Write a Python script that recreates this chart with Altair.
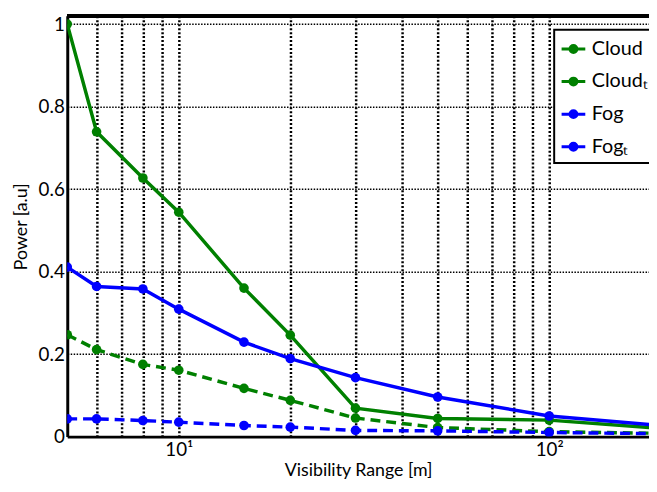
import altair as alt
import pandas as pd

# ---- data ----
x_vals = [5, 6, 8, 10, 15, 20, 30, 50, 100, 200]
cloud = [1.0, 0.739, 0.627, 0.544, 0.360, 0.246, 0.069, 0.044, 0.040, 0.020]
cloud_t = [0.247, 0.211, 0.175, 0.161, 0.117, 0.088, 0.045, 0.022, 0.012, 0.008]
fog = [0.411, 0.364, 0.358, 0.309, 0.229, 0.189, 0.143, 0.096, 0.050, 0.027]
fog_t = [0.043, 0.043, 0.039, 0.035, 0.027, 0.023, 0.015, 0.014, 0.010, 0.007]

series_names = ["Cloud", "Cloudₜ", "Fog", "Fogₜ"]
series_colors = ["#008000", "#008000", "#0000ff", "#0000ff"]
solid_series = ["Cloud", "Fog"]
dashed_series = ["Cloudₜ", "Fogₜ"]

x_grid_values = [6, 7, 8, 9, 10, 20, 30, 40, 50, 60, 70, 80, 90, 100]
y_tick_values = [0, 0.2, 0.4, 0.6, 0.8, 1.0]

rows = []
for name, vals in zip(series_names, [cloud, cloud_t, fog, fog_t]):
    for xv, yv in zip(x_vals, vals):
        rows.append({"x": xv, "value": yv, "series": name})
df = pd.DataFrame(rows)

FONT = "Lato"
W, H = 589, 426

x_scale = alt.Scale(type="log", domain=[5, 186])
y_scale = alt.Scale(domain=[0, 1.02], nice=False, zero=False)

legend_path = ("M-1,0H1 "
               "M-0.29,0A0.29,0.29 0 1,0 0.29,0A0.29,0.29 0 1,0 -0.29,0 "
               "M-0.125,0A0.125,0.125 0 1,0 0.125,0A0.125,0.125 0 1,0 -0.125,0")

color_enc = alt.Color(
    "series:N",
    scale=alt.Scale(domain=series_names, range=series_colors),
    sort=series_names,
    legend=alt.Legend(
        title=None, orient="none", legendX=493, legendY=14,
        symbolType=legend_path, symbolSize=576, symbolStrokeWidth=3,
        labelFontSize=20, labelFont=FONT, labelColor="black",
        labelOffset=5, rowPadding=9, padding=6,
        strokeColor="black", fillColor="white",
    ),
)

x_enc = alt.X(
    "x:Q", scale=x_scale,
    axis=alt.Axis(
        values=x_grid_values,
        labelExpr="datum.value == 10 ? '10¹' : datum.value == 100 ? '10²' : ''",
        grid=True, gridColor="black", gridDash=[2, 2], gridWidth=2.5, gridOpacity=1,
        ticks=False, domainColor="black", domainWidth=3,
        labelFont=FONT, labelFontSize=19, labelColor="black", labelPadding=4,
        labelFlush=False, labelOverlap=False,
        title="Visibility Range [m]", titleFont=FONT, titleFontSize=18,
        titleFontWeight="normal", titleColor="black", titlePadding=2,
    ),
)
y_enc = alt.Y(
    "value:Q", scale=y_scale,
    axis=alt.Axis(
        values=y_tick_values,
        labelExpr="datum.value == 0 ? '0' : datum.value == 1 ? '1' : format(datum.value, '.1f')",
        grid=True, gridColor="black", gridDash=[1.5, 1.5], gridWidth=1.5, gridOpacity=1,
        ticks=False, domainColor="black", domainWidth=3,
        labelFont=FONT, labelFontSize=19, labelColor="black", labelPadding=3,
        title="Power [a.u]", titleFont=FONT, titleFontSize=18,
        titleFontWeight="normal", titleColor="black", titlePadding=8,
    ),
)

base = alt.Chart(df).encode(x=x_enc, y=y_enc, color=color_enc)

solid = base.transform_filter(
    alt.FieldOneOfPredicate(field="series", oneOf=solid_series)
).mark_line(strokeWidth=3.5, clip=True)

dashed = base.transform_filter(
    alt.FieldOneOfPredicate(field="series", oneOf=dashed_series)
).mark_line(strokeWidth=3.5, strokeDash=[10, 6], clip=True)

points = base.mark_point(filled=True, size=95, opacity=1, clip=True)

# top frame line of the plot area
top_frame = alt.Chart(df).mark_rule(color="black", strokeWidth=3).encode(
    x=alt.value(0), x2=alt.value(W), y=alt.value(0)
)

chart = alt.layer(solid, dashed, points, top_frame).properties(
    width=W, height=H,
    autosize=alt.AutoSizeParams(type="none"),
    padding={"left": 60, "top": 5, "right": 0, "bottom": 45},
).configure_view(stroke=None).configure_legend(strokeWidth=2)

chart.save("out.html", embed_options={"renderer": "svg", "actions": False})
